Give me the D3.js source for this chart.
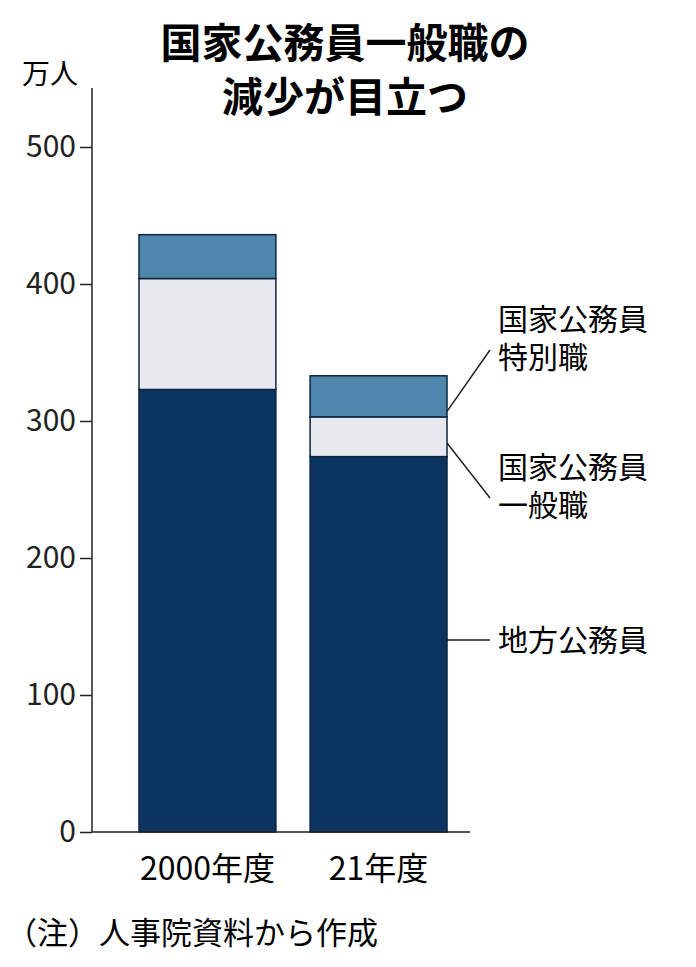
<!DOCTYPE html><html><head><meta charset="utf-8"><script src="https://cdn.jsdelivr.net/npm/d3@7"></script>
<style>body{margin:0;background:#fff}text{font-family:"Noto Sans CJK JP",sans-serif}</style></head><body><svg width="696" height="967"></svg><script>
const categories=["2000年度","21年度"];
const seriesNames=["地方公務員","国家公務員一般職","国家公務員特別職"];
const local=[323,274];
const general=[81,29];
const special=[32,30];
const ticks=[0,100,200,300,400,500];
const colors=["#0b3461","#e8e9ee","#4f87ac"];
const svg=d3.select("svg");
const y=d3.scaleLinear().domain([0,500]).range([832,147]);
const x=d3.scaleBand().domain(categories).range([139,447]).paddingInner(0.2).paddingOuter(0);
svg.append("text").attr("x",345).attr("y",58).attr("text-anchor","middle").attr("font-size",41).attr("font-weight",700).text("国家公務員一般職の");
svg.append("text").attr("x",345).attr("y",112).attr("text-anchor","middle").attr("font-size",41).attr("font-weight",700).text("減少が目立つ");
svg.append("text").attr("x",22).attr("y",84).attr("font-size",28).text("万人");
const ax=svg.append("g").attr("transform","translate(92,0)").call(d3.axisLeft(y).tickValues(ticks).tickSize(12).tickPadding(4));
ax.select(".domain").attr("d","M0,88V832").attr("stroke","#222").attr("stroke-width",1.5);
ax.selectAll("line").attr("stroke","#222").attr("stroke-width",1.5);
ax.selectAll("text").attr("font-size",30).attr("font-family","'Noto Sans CJK JP',sans-serif").attr("fill","#222");
const stack=d3.stack().keys([0,1,2]).value((d,k)=>d[k]);
const rows=categories.map((c,i)=>[local[i],general[i],special[i]]);
const s=stack(rows);
s.forEach((ser,k)=>{ser.forEach((d,i)=>{svg.append("rect").attr("x",x(categories[i])).attr("width",x.bandwidth()).attr("y",y(d[1])).attr("height",y(d[0])-y(d[1])).attr("fill",colors[k]).attr("stroke","#0b2440").attr("stroke-width",1.5);});});
svg.append("line").attr("x1",92).attr("x2",470).attr("y1",832).attr("y2",832).attr("stroke","#222").attr("stroke-width",1.5);
categories.forEach(c=>svg.append("text").attr("x",x(c)+x.bandwidth()/2).attr("y",880).attr("text-anchor","middle").attr("font-size",32).text(c));
const xr=x(categories[1])+x.bandwidth();
const lab=[[y(s[2][1][0]+4),350,["国家公務員","特別職"],-20],[y(s[1][1][0]+10),498,["国家公務員","一般職"],-20],[640,640,["地方公務員"],11]];
lab.forEach(([y0,y1,t,dy])=>{svg.append("path").attr("d",`M${xr},${y0}L490,${y1}`).attr("fill","none").attr("stroke","#222").attr("stroke-width",1.5);
t.forEach((l,j)=>svg.append("text").attr("x",498).attr("y",y1+dy+j*38).attr("font-size",30).text(l));});
svg.append("text").attr("x",6).attr("y",944).attr("font-size",31).text("（注）人事院資料から作成");
</script></body></html>
